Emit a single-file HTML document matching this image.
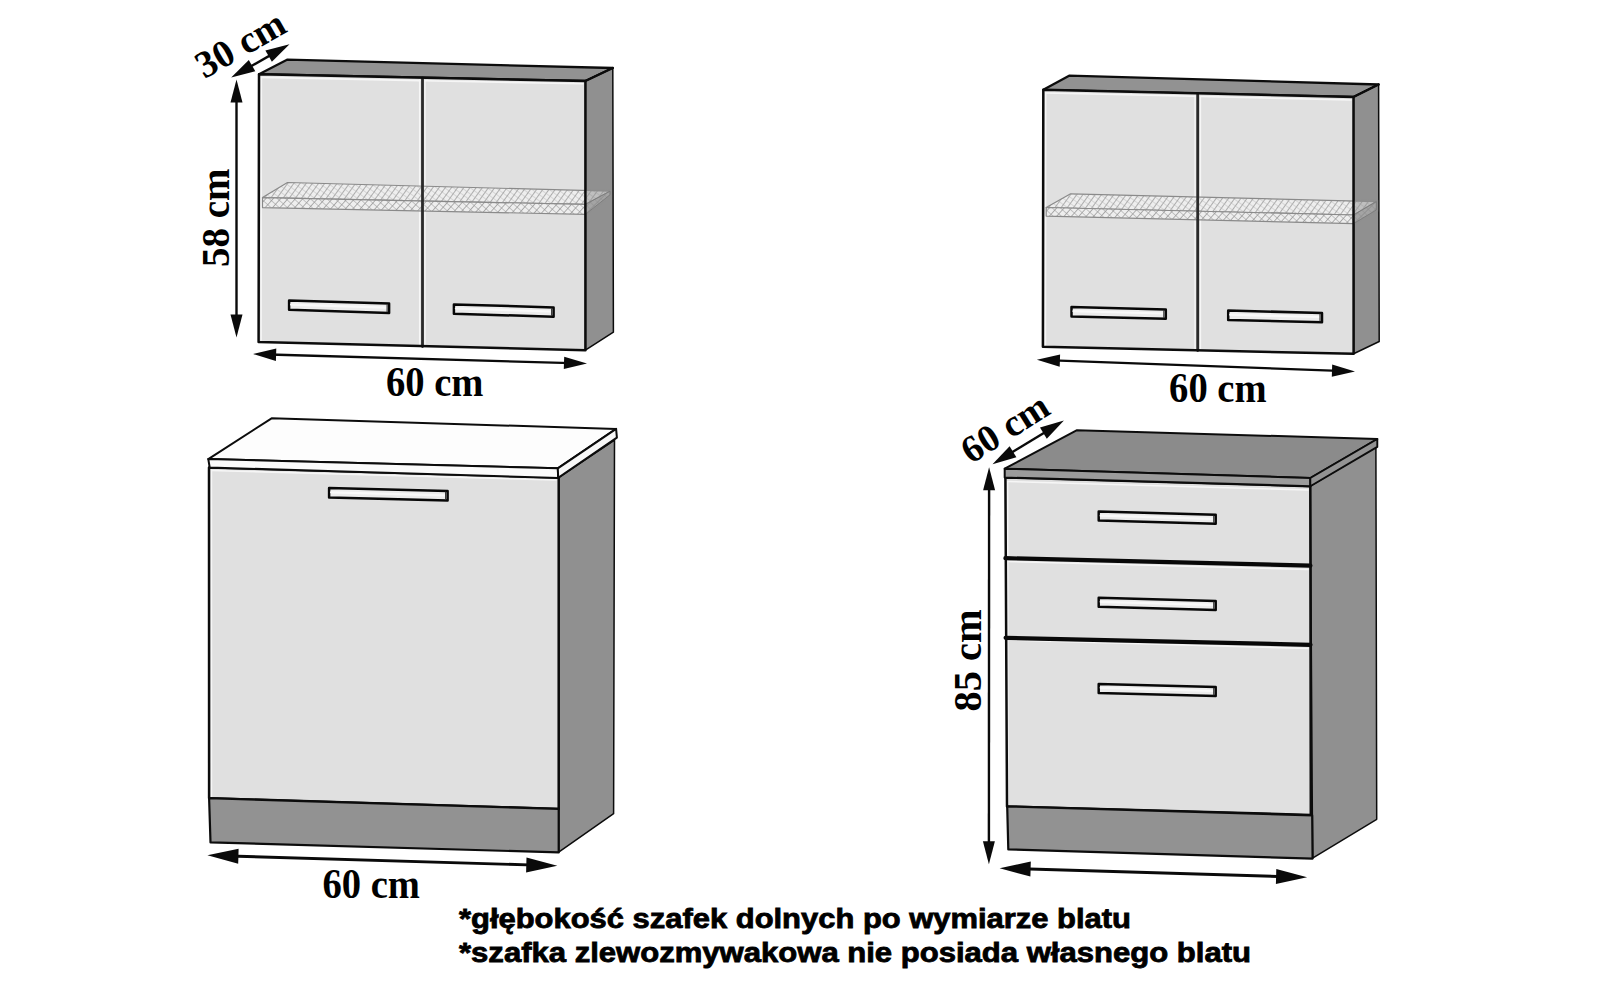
<!DOCTYPE html>
<html><head><meta charset="utf-8"><title>Szafki kuchenne - wymiary</title>
<style>html,body{margin:0;padding:0;background:#fff;overflow:hidden;} svg{display:block;}</style></head>
<body>
<svg width="1600" height="995" viewBox="0 0 1600 995">
<defs>
<pattern id="hatchT" patternUnits="userSpaceOnUse" width="5" height="5" patternTransform="rotate(36)">
<rect width="5" height="5" fill="#eeeeee"/><line x1="0" y1="0" x2="0" y2="5" stroke="#7c7c7c" stroke-width="1.15"/><line x1="0" y1="0" x2="5" y2="0" stroke="#b0b0b0" stroke-width="0.8"/></pattern>
<pattern id="hatchF" patternUnits="userSpaceOnUse" width="5.5" height="5.5" patternTransform="rotate(42)">
<rect width="5.5" height="5.5" fill="#eeeeee"/><line x1="0" y1="0" x2="0" y2="5.5" stroke="#7c7c7c" stroke-width="1.15"/><line x1="0" y1="0" x2="5.5" y2="0" stroke="#999" stroke-width="1.0"/></pattern>
<pattern id="hatchS" patternUnits="userSpaceOnUse" width="5" height="5" patternTransform="rotate(45)">
<rect width="5" height="5" fill="#b8b8b8"/><line x1="0" y1="0" x2="0" y2="5" stroke="#777" stroke-width="1.1"/><line x1="0" y1="0" x2="5" y2="0" stroke="#8c8c8c" stroke-width="0.9"/></pattern>
</defs>
<rect width="1600" height="995" fill="#fff"/>
<polygon points="259.0,74.2 287.5,59.6 612.8,68.0 585.4,81.0" fill="#929292" stroke="#0c0c0c" stroke-width="2.3" stroke-linejoin="round" />
<polygon points="585.4,81.0 612.8,68.0 613.4,332.2 585.4,350.2" fill="#909090" stroke="#0c0c0c" stroke-width="1.5" stroke-linejoin="round" />
<polygon points="259.0,74.2 585.4,81.0 585.4,350.2 258.6,342.0" fill="#e0e0e0" stroke="none" stroke-linejoin="round" />
<line x1="261.5" y1="77.4" x2="420.0" y2="80.6" stroke="#f6f6f6" stroke-width="1.6" stroke-linecap="round" />
<line x1="425.0" y1="80.8" x2="583.0" y2="83.8" stroke="#f6f6f6" stroke-width="1.6" stroke-linecap="round" />
<line x1="261.4" y1="77.5" x2="261.2" y2="340.0" stroke="#f6f6f6" stroke-width="1.4" stroke-linecap="round" />
<line x1="419.6" y1="80.0" x2="419.6" y2="346.0" stroke="#f6f6f6" stroke-width="1.3" stroke-linecap="round" />
<line x1="425.0" y1="81.0" x2="425.0" y2="346.5" stroke="#f6f6f6" stroke-width="1.3" stroke-linecap="round" />
<polygon points="287.5,182.5 610.0,191.2 585.4,204.4 262.5,197.6" fill="url(#hatchT)" stroke="#8a8a8a" stroke-width="1.2" stroke-linejoin="round" /><polygon points="262.5,197.6 585.4,204.4 585.4,214.4 262.5,207.6" fill="url(#hatchF)" stroke="#8a8a8a" stroke-width="1.2" stroke-linejoin="round" /><polygon points="585.4,204.4 610.0,191.2 610.0,194.8 585.4,214.4" fill="url(#hatchS)" stroke="#6a6a6a" stroke-width="1.0" stroke-linejoin="round" /><polygon points="585.4,189.0 612.0,189.7 612.0,196.3 585.4,215.4" fill="#909090" stroke="none" stroke-linejoin="round" fill-opacity="0.5"/>
<line x1="422.5" y1="78.0" x2="422.5" y2="346.5" stroke="#2a2a2a" stroke-width="2.8" stroke-linecap="round" />
<polygon points="259.0,74.2 585.4,81.0 585.4,350.2 258.6,342.0" fill="none" stroke="#0c0c0c" stroke-width="2.5" stroke-linejoin="round" />
<polygon points="585.4,81.0 612.8,68.0" fill="none" stroke="#0c0c0c" stroke-width="2.3" stroke-linejoin="round" />
<polygon points="289.1,300.4 389.1,303.6 389.1,312.9 289.1,309.8" fill="#ececec" stroke="#080808" stroke-width="2.5" stroke-linejoin="round" /><line x1="291.1" y1="304.6" x2="386.1" y2="307.7" stroke="#f8f8f8" stroke-width="2.2" stroke-linecap="round" /><line x1="387.1" y1="304.8" x2="387.1" y2="311.7" stroke="#333" stroke-width="1.1" stroke-linecap="round" />
<polygon points="453.9,304.4 553.6,307.4 553.6,316.7 453.9,313.7" fill="#ececec" stroke="#080808" stroke-width="2.5" stroke-linejoin="round" /><line x1="455.9" y1="308.5" x2="550.6" y2="311.5" stroke="#f8f8f8" stroke-width="2.2" stroke-linecap="round" /><line x1="551.6" y1="308.6" x2="551.6" y2="315.5" stroke="#333" stroke-width="1.1" stroke-linecap="round" />
<line x1="236.5" y1="95.5" x2="236.5" y2="321.3" stroke="#0a0a0a" stroke-width="2.4"/>
<polygon points="236.5,337.4 230.5,314.4 242.5,314.4" fill="#0a0a0a"/>
<polygon points="236.5,79.4 230.5,102.4 242.5,102.4" fill="#0a0a0a"/>
<line x1="269.2" y1="354.5" x2="570.9" y2="363.1" stroke="#0a0a0a" stroke-width="2.3"/>
<polygon points="587.0,363.6 563.8,369.1 564.2,356.7" fill="#0a0a0a"/>
<polygon points="253.1,354.0 275.9,360.9 276.3,348.5" fill="#0a0a0a"/>
<line x1="245.8" y1="69.2" x2="274.9" y2="52.6" stroke="#0a0a0a" stroke-width="2.4"/>
<polygon points="289.5,44.2 271.9,61.8 265.4,50.5" fill="#0a0a0a"/>
<polygon points="231.2,77.6 255.3,71.3 248.8,60.0" fill="#0a0a0a"/>
<text x="204.6" y="79.3" font-family="Liberation Serif" font-weight="bold" font-size="38.3" text-anchor="start" fill="#000" transform="translate(204.6 79.3) rotate(-29.8) scale(1 1.0) translate(-204.6 -79.3)" >30 cm</text>
<text x="228.6" y="267.0" font-family="Liberation Serif" font-weight="bold" font-size="39" text-anchor="start" fill="#000" transform="translate(228.6 267.0) rotate(-90) scale(1 1.0) translate(-228.6 -267.0)" >58 cm</text>
<text x="386.0" y="395.6" font-family="Liberation Serif" font-weight="bold" font-size="38.6" text-anchor="start" fill="#000" transform="translate(386.0 395.6) rotate(0) scale(1 1.08) translate(-386.0 -395.6)" >60 cm</text>
<polygon points="558.7,477.4 614.5,440.1 613.6,813.7 558.7,852.2" fill="#909090" stroke="#0c0c0c" stroke-width="1.5" stroke-linejoin="round" />
<polygon points="209.0,467.5 558.7,477.4 558.7,808.9 209.1,798.2" fill="#e0e0e0" stroke="none" stroke-linejoin="round" />
<line x1="211.5" y1="470.5" x2="556.0" y2="480.0" stroke="#f6f6f6" stroke-width="1.6" stroke-linecap="round" />
<line x1="211.5" y1="470.0" x2="211.5" y2="797.0" stroke="#f6f6f6" stroke-width="1.4" stroke-linecap="round" />
<polygon points="209.0,467.5 558.7,477.4 558.7,808.9 209.1,798.2" fill="none" stroke="#0c0c0c" stroke-width="2.5" stroke-linejoin="round" />
<polygon points="209.1,798.2 558.7,808.9 558.7,852.4 210.5,842.4" fill="#929292" stroke="#0c0c0c" stroke-width="2.2" stroke-linejoin="round" />
<polygon points="271.6,418.3 616.1,428.9 557.8,468.3 208.3,459.1" fill="#fdfdfd" stroke="#0c0c0c" stroke-width="2.0" stroke-linejoin="round" />
<polygon points="208.3,459.1 557.8,468.3 558.2,477.9 209.7,467.5" fill="#fbfbfb" stroke="#0c0c0c" stroke-width="2.0" stroke-linejoin="round" />
<polygon points="557.8,468.3 616.1,428.9 616.9,437.7 558.2,477.9" fill="#f8f8f8" stroke="#0c0c0c" stroke-width="2.0" stroke-linejoin="round" />
<polygon points="329.1,487.9 447.6,490.9 447.6,500.6 329.1,497.6" fill="#ececec" stroke="#080808" stroke-width="2.5" stroke-linejoin="round" /><line x1="331.1" y1="492.3" x2="444.6" y2="495.3" stroke="#f8f8f8" stroke-width="2.2" stroke-linecap="round" /><line x1="445.6" y1="492.1" x2="445.6" y2="499.4" stroke="#333" stroke-width="1.1" stroke-linecap="round" />
<line x1="229.1" y1="856.0" x2="535.6" y2="865.1" stroke="#0a0a0a" stroke-width="2.9"/>
<polygon points="557.3,865.8 526.1,872.4 526.5,857.4" fill="#0a0a0a"/>
<polygon points="207.4,855.3 238.2,863.7 238.6,848.7" fill="#0a0a0a"/>
<text x="322.5" y="898.0" font-family="Liberation Serif" font-weight="bold" font-size="38.6" text-anchor="start" fill="#000" transform="translate(322.5 898.0) rotate(0) scale(1 1.08) translate(-322.5 -898.0)" >60 cm</text>
<polygon points="1043.3,89.8 1069.1,75.7 1378.6,84.5 1353.5,97.0" fill="#929292" stroke="#0c0c0c" stroke-width="2.3" stroke-linejoin="round" />
<polygon points="1353.5,97.0 1378.6,84.5 1379.2,341.5 1353.6,353.8" fill="#909090" stroke="#0c0c0c" stroke-width="1.5" stroke-linejoin="round" />
<polygon points="1043.3,89.8 1353.5,97.0 1353.6,353.8 1042.9,346.8" fill="#e0e0e0" stroke="none" stroke-linejoin="round" />
<line x1="1045.8" y1="93.0" x2="1195.0" y2="96.3" stroke="#f6f6f6" stroke-width="1.6" stroke-linecap="round" />
<line x1="1200.5" y1="96.5" x2="1351.0" y2="100.0" stroke="#f6f6f6" stroke-width="1.6" stroke-linecap="round" />
<line x1="1045.7" y1="93.0" x2="1045.5" y2="345.0" stroke="#f6f6f6" stroke-width="1.4" stroke-linecap="round" />
<line x1="1195.0" y1="96.0" x2="1195.0" y2="350.0" stroke="#f6f6f6" stroke-width="1.3" stroke-linecap="round" />
<line x1="1200.5" y1="96.5" x2="1200.5" y2="350.5" stroke="#f6f6f6" stroke-width="1.3" stroke-linecap="round" />
<polygon points="1070.6,193.8 1376.3,201.6 1353.5,215.0 1046.2,207.5" fill="url(#hatchT)" stroke="#8a8a8a" stroke-width="1.2" stroke-linejoin="round" /><polygon points="1046.2,207.5 1353.5,215.0 1353.5,223.6 1046.2,216.1" fill="url(#hatchF)" stroke="#8a8a8a" stroke-width="1.2" stroke-linejoin="round" /><polygon points="1353.5,215.0 1376.3,201.6 1376.3,210.0 1353.5,223.6" fill="url(#hatchS)" stroke="#6a6a6a" stroke-width="1.0" stroke-linejoin="round" /><polygon points="1353.5,199.5 1378.3,200.1 1378.3,211.5 1353.5,224.6" fill="#909090" stroke="none" stroke-linejoin="round" fill-opacity="0.5"/>
<line x1="1197.7" y1="93.5" x2="1197.7" y2="350.5" stroke="#2a2a2a" stroke-width="2.8" stroke-linecap="round" />
<polygon points="1043.3,89.8 1353.5,97.0 1353.6,353.8 1042.9,346.8" fill="none" stroke="#0c0c0c" stroke-width="2.5" stroke-linejoin="round" />
<polygon points="1353.5,97.0 1378.6,84.5" fill="none" stroke="#0c0c0c" stroke-width="2.3" stroke-linejoin="round" />
<polygon points="1071.5,307.1 1165.8,309.4 1165.8,318.7 1071.5,316.4" fill="#ececec" stroke="#080808" stroke-width="2.5" stroke-linejoin="round" /><line x1="1073.5" y1="311.2" x2="1162.8" y2="313.5" stroke="#f8f8f8" stroke-width="2.2" stroke-linecap="round" /><line x1="1163.8" y1="310.6" x2="1163.8" y2="317.5" stroke="#333" stroke-width="1.1" stroke-linecap="round" />
<polygon points="1228.2,310.6 1322.0,312.9 1322.0,322.2 1228.2,319.9" fill="#ececec" stroke="#080808" stroke-width="2.5" stroke-linejoin="round" /><line x1="1230.2" y1="314.7" x2="1319.0" y2="317.0" stroke="#f8f8f8" stroke-width="2.2" stroke-linecap="round" /><line x1="1320.0" y1="314.1" x2="1320.0" y2="321.0" stroke="#333" stroke-width="1.1" stroke-linecap="round" />
<line x1="1053.0" y1="360.4" x2="1338.9" y2="370.8" stroke="#0a0a0a" stroke-width="2.3"/>
<polygon points="1355.0,371.4 1331.8,376.8 1332.2,364.4" fill="#0a0a0a"/>
<polygon points="1036.9,359.8 1059.7,366.8 1060.1,354.4" fill="#0a0a0a"/>
<text x="1169.1" y="402.1" font-family="Liberation Serif" font-weight="bold" font-size="38.6" text-anchor="start" fill="#000" transform="translate(1169.1 402.1) rotate(0) scale(1 1.08) translate(-1169.1 -402.1)" >60 cm</text>
<polygon points="1310.3,486.2 1375.9,446.9 1376.7,819.3 1312.6,858.1" fill="#909090" stroke="#0c0c0c" stroke-width="1.5" stroke-linejoin="round" />
<polygon points="1005.4,477.5 1310.3,486.2 1310.8,814.9 1007.0,806.4" fill="#e0e0e0" stroke="none" stroke-linejoin="round" />
<line x1="1007.6" y1="481.5" x2="1308.0" y2="490.0" stroke="#f6f6f6" stroke-width="1.6" stroke-linecap="round" />
<line x1="1007.6" y1="561.5" x2="1308.0" y2="569.5" stroke="#f6f6f6" stroke-width="1.6" stroke-linecap="round" />
<line x1="1007.6" y1="640.0" x2="1308.0" y2="648.5" stroke="#f6f6f6" stroke-width="1.6" stroke-linecap="round" />
<line x1="1007.7" y1="482.0" x2="1007.9" y2="804.0" stroke="#f6f6f6" stroke-width="1.4" stroke-linecap="round" />
<line x1="1005.4" y1="558.2" x2="1310.4" y2="565.6" stroke="#080808" stroke-width="4.2" stroke-linecap="round" />
<line x1="1005.6" y1="637.8" x2="1310.5" y2="644.8" stroke="#080808" stroke-width="4.2" stroke-linecap="round" />
<polygon points="1005.4,477.5 1310.3,486.2 1310.8,814.9 1007.0,806.4" fill="none" stroke="#0c0c0c" stroke-width="2.5" stroke-linejoin="round" />
<polygon points="1007.2,806.4 1312.2,815.4 1312.6,858.6 1008.3,849.4" fill="#929292" stroke="#0c0c0c" stroke-width="2.2" stroke-linejoin="round" />
<polygon points="1077.0,430.2 1377.3,439.0 1310.3,478.0 1004.7,468.7" fill="#8b8b8b" stroke="#0c0c0c" stroke-width="2.0" stroke-linejoin="round" />
<polygon points="1004.7,468.7 1310.3,478.0 1310.3,486.2 1004.7,477.5" fill="#9b9b9b" stroke="#0c0c0c" stroke-width="2.0" stroke-linejoin="round" />
<polygon points="1310.3,478.0 1377.3,439.0 1377.3,446.9 1310.3,486.2" fill="#939393" stroke="#0c0c0c" stroke-width="1.9" stroke-linejoin="round" />
<polygon points="1098.7,511.6 1215.7,514.8 1215.7,523.8 1098.7,520.6" fill="#ececec" stroke="#080808" stroke-width="2.5" stroke-linejoin="round" /><line x1="1100.7" y1="515.7" x2="1212.7" y2="518.8" stroke="#f8f8f8" stroke-width="2.2" stroke-linecap="round" /><line x1="1213.7" y1="516.0" x2="1213.7" y2="522.5" stroke="#333" stroke-width="1.1" stroke-linecap="round" />
<polygon points="1098.7,597.8 1215.7,600.9 1215.7,609.9 1098.7,606.8" fill="#ececec" stroke="#080808" stroke-width="2.5" stroke-linejoin="round" /><line x1="1100.7" y1="601.8" x2="1212.7" y2="604.9" stroke="#f8f8f8" stroke-width="2.2" stroke-linecap="round" /><line x1="1213.7" y1="602.1" x2="1213.7" y2="608.6" stroke="#333" stroke-width="1.1" stroke-linecap="round" />
<polygon points="1098.7,683.9 1215.7,687.0 1215.7,696.0 1098.7,692.9" fill="#ececec" stroke="#080808" stroke-width="2.5" stroke-linejoin="round" /><line x1="1100.7" y1="687.9" x2="1212.7" y2="691.0" stroke="#f8f8f8" stroke-width="2.2" stroke-linecap="round" /><line x1="1213.7" y1="688.2" x2="1213.7" y2="694.8" stroke="#333" stroke-width="1.1" stroke-linecap="round" />
<line x1="989.1" y1="483.4" x2="988.9" y2="848.1" stroke="#0a0a0a" stroke-width="2.4"/>
<polygon points="988.9,864.2 982.9,841.2 994.9,841.2" fill="#0a0a0a"/>
<polygon points="989.1,467.3 983.1,490.3 995.1,490.3" fill="#0a0a0a"/>
<line x1="1021.3" y1="868.8" x2="1285.4" y2="876.7" stroke="#0a0a0a" stroke-width="2.9"/>
<polygon points="1307.1,877.3 1275.9,883.9 1276.3,868.9" fill="#0a0a0a"/>
<polygon points="999.6,868.2 1030.4,876.6 1030.8,861.6" fill="#0a0a0a"/>
<line x1="1006.8" y1="455.5" x2="1049.6" y2="429.4" stroke="#0a0a0a" stroke-width="2.4"/>
<polygon points="1063.9,420.6 1046.8,438.7 1040.0,427.6" fill="#0a0a0a"/>
<polygon points="992.5,464.3 1016.4,457.3 1009.6,446.2" fill="#0a0a0a"/>
<text x="971.0" y="464.5" font-family="Liberation Serif" font-weight="bold" font-size="38" text-anchor="start" fill="#000" transform="translate(971.0 464.5) rotate(-32.3) scale(1 1.0) translate(-971.0 -464.5)" >60 cm</text>
<text x="981.1" y="711.5" font-family="Liberation Serif" font-weight="bold" font-size="40.4" text-anchor="start" fill="#000" transform="translate(981.1 711.5) rotate(-90) scale(1 1.0) translate(-981.1 -711.5)" >85 cm</text>
<text x="459.0" y="927.5" font-family="Liberation Sans" font-weight="bold" font-size="27" text-anchor="start" fill="#000" textLength="672" lengthAdjust="spacingAndGlyphs" stroke="#000" stroke-width="0.8">*głębokość szafek dolnych po wymiarze blatu</text>
<text x="459.0" y="961.5" font-family="Liberation Sans" font-weight="bold" font-size="27" text-anchor="start" fill="#000" textLength="792" lengthAdjust="spacingAndGlyphs" stroke="#000" stroke-width="0.8">*szafka zlewozmywakowa nie posiada własnego blatu</text>
</svg>
</body></html>
